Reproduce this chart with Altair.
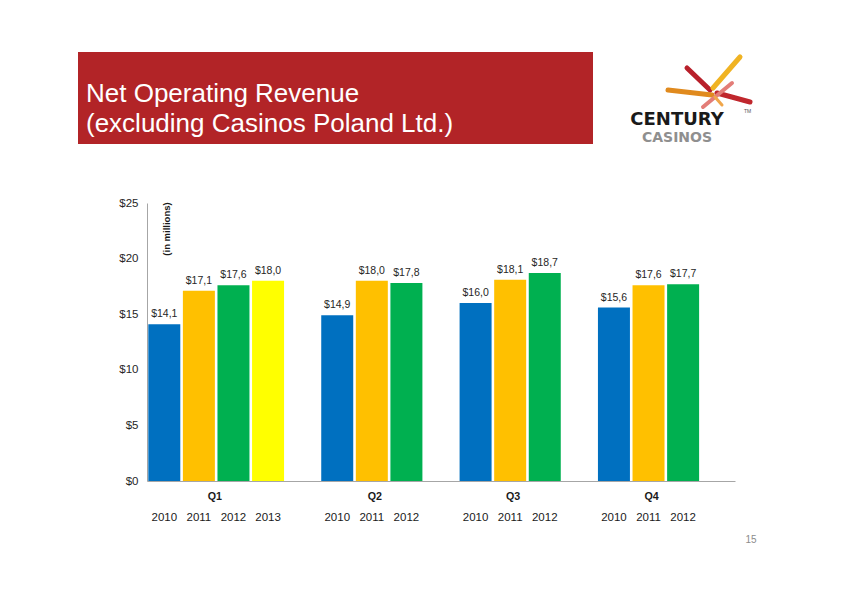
import altair as alt
import pandas as pd

# ---- data ----
quarters = ["Q1", "Q2", "Q3", "Q4"]
years_by_quarter = [
    ["2010", "2011", "2012", "2013"],
    ["2010", "2011", "2012"],
    ["2010", "2011", "2012"],
    ["2010", "2011", "2012"],
]
values_by_quarter = [
    [14.1, 17.1, 17.6, 18.0],
    [14.9, 18.0, 17.8],
    [16.0, 18.1, 18.7],
    [15.6, 17.6, 17.7],
]
years = ["2010", "2011", "2012", "2013"]
year_colors = ["#0070C0", "#FFC000", "#00B050", "#FFFF00"]
y_ticks = [0, 5, 10, 15, 20, 25]
title_lines = ["Net Operating Revenue", "(excluding Casinos Poland Ltd.)"]
logo_word1 = "CENTURY"
logo_word2 = "CASINOS"

rows = []
slot_domain = []
for q, ys, vs in zip(quarters, years_by_quarter, values_by_quarter):
    for y, v in zip(ys, vs):
        key = f"{q} {y}"
        slot_domain.append(key)
        rows.append({"quarter": q, "year": y, "value": v, "slot": key})
    slot_domain.append(f"{q} gap")
df = pd.DataFrame(rows)

q_anchor = pd.DataFrame({"quarter": quarters, "slot": [f"{q} 2011" for q in quarters]})
one = pd.DataFrame({"k": [0]})

W, H = 588, 278
FONT = "Liberation Sans"

x_scale = alt.Scale(domain=slot_domain, paddingInner=0.075, paddingOuter=0.0375)
y_scale = alt.Scale(domain=[0, 25])

base = alt.Chart(df)
deco = alt.Chart(one)

bars = base.mark_bar().encode(
    x=alt.X("slot:N", scale=x_scale, sort=slot_domain,
            axis=alt.Axis(labels=False, ticks=False, title=None, domainColor="#A6A6A6")),
    y=alt.Y("value:Q", scale=y_scale,
            axis=alt.Axis(values=y_ticks, labelExpr="'$' + datum.value", ticks=False, grid=False,
                          title=None, domainColor="#A6A6A6", labelFont=FONT, labelFontSize=11.5,
                          labelColor="#262626", labelPadding=9)),
    color=alt.Color("year:N", scale=alt.Scale(domain=years, range=year_colors), legend=None),
)

value_labels = base.transform_calculate(
    lbl="'$' + replace(format(datum.value, '.1f'), '.', ',')"
).mark_text(baseline="bottom", dy=-5, font=FONT, fontSize=10.5, color="#262626").encode(
    x=alt.X("slot:N", scale=x_scale, sort=slot_domain),
    y=alt.Y("value:Q", scale=y_scale),
    text="lbl:N",
)

year_labels = base.mark_text(baseline="middle", font=FONT, fontSize=11.5, color="#1a1a1a").encode(
    x=alt.X("slot:N", scale=x_scale, sort=slot_domain),
    y=alt.value(315),
    text="year:N",
)

q1_label = alt.Chart(q_anchor).transform_filter("datum.quarter == 'Q1'").mark_text(
    baseline="middle", font=FONT, fontSize=10.7, fontWeight="bold", color="#1a1a1a"
).encode(
    x=alt.X("slot:N", scale=x_scale, sort=slot_domain, bandPosition=1),
    y=alt.value(294),
    text="quarter:N",
)
q_labels = alt.Chart(q_anchor).transform_filter("datum.quarter != 'Q1'").mark_text(
    baseline="middle", font=FONT, fontSize=10.7, fontWeight="bold", color="#1a1a1a", dx=3
).encode(
    x=alt.X("slot:N", scale=x_scale, sort=slot_domain),
    y=alt.value(294),
    text="quarter:N",
)

units = deco.mark_text(angle=270, font=FONT, fontSize=9.5, fontWeight="bold", color="#1a1a1a",
                       baseline="middle", align="center").encode(
    x=alt.value(20), y=alt.value(26), text=alt.value("(in millions)")
)

# title banner
banner = deco.mark_rect(color="#B22427").encode(
    x=alt.value(-69), x2=alt.value(446), y=alt.value(-151), y2=alt.value(-59)
)
banner_text = deco.mark_text(align="left", baseline="alphabetic", font=FONT, fontSize=26,
                             color="white", lineHeight=30).encode(
    x=alt.value(-61), y=alt.value(-101), text=alt.value(title_lines)
)

# logo (approximation)
ray_specs = [
    ("#B8202B", 540, -135, 563, -113, 5),
    ("#F0B323", 593, -146, 566, -115, 5),
    ("#E08A1E", 521, -113, 565, -108, 5),
    ("#C0272D", 603, -101, 570, -110, 5),
    ("#E37D78", 585, -120, 556, -96, 4),
    ("#F0A64A", 568, -106, 575, -98, 3),
]
rays = []
for c, x1, y1, x2, y2, sw in ray_specs:
    rays.append(deco.mark_rule(color=c, strokeWidth=sw, strokeCap="round").encode(
        x=alt.value(x1), y=alt.value(y1), x2=alt.value(x2), y2=alt.value(y2)))
logo1 = deco.mark_text(align="center", baseline="alphabetic", font="DejaVu Sans",
                       fontSize=18, fontWeight="bold", color="#1a1a1a").encode(
    x=alt.value(530), y=alt.value(-78), text=alt.value(logo_word1))
logo2 = deco.mark_text(align="center", baseline="alphabetic", font="DejaVu Sans",
                       fontSize=14, fontWeight="bold", color="#8F8F8F").encode(
    x=alt.value(530), y=alt.value(-61), text=alt.value(logo_word2))
tm = deco.mark_text(align="left", font=FONT, fontSize=5, color="#555555").encode(
    x=alt.value(597), y=alt.value(-92), text=alt.value("TM"))

page_no = deco.mark_text(font=FONT, fontSize=10, color="#8C8C8C").encode(
    x=alt.value(604), y=alt.value(337), text=alt.value("15"))

chart = alt.layer(
    banner, banner_text, *rays, logo1, logo2, tm,
    bars, value_labels, year_labels, q1_label, q_labels, units, page_no
).properties(
    width=W, height=H,
    padding={"left": 139, "top": 195, "right": 90, "bottom": 100},
    autosize=alt.AutoSizeParams(type="none"),
    background="white",
).configure_view(stroke=None)

chart.save("out.html", embed_options={"renderer": "svg", "actions": False})
